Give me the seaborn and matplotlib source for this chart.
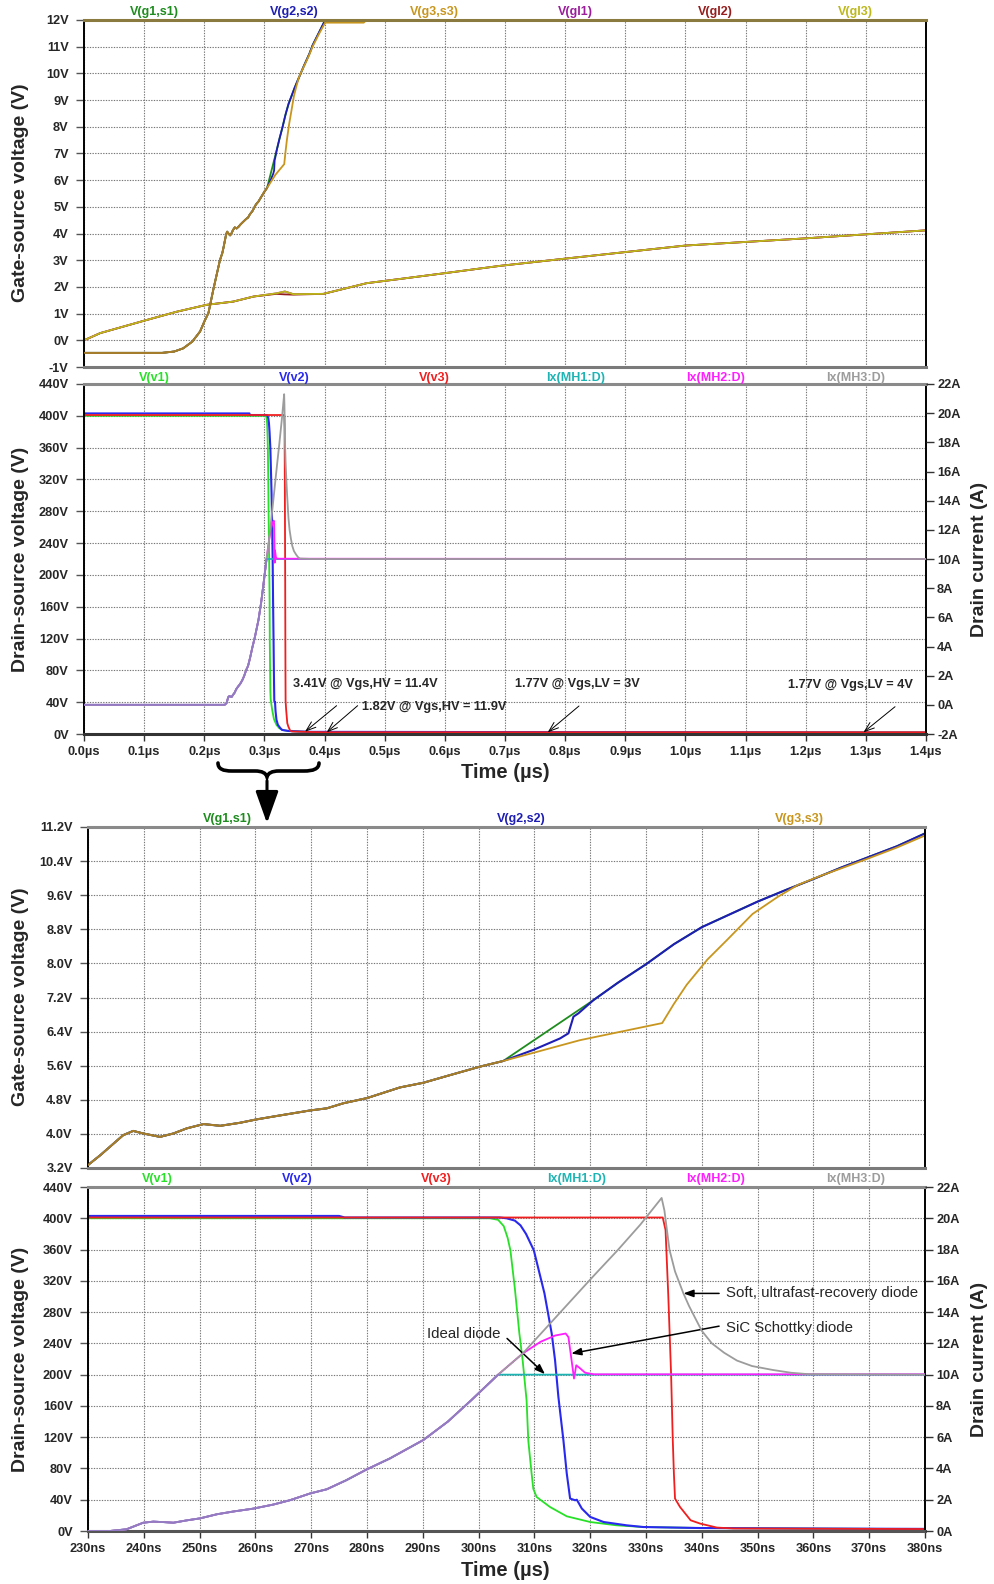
import numpy as np
import matplotlib
matplotlib.use("Agg")
import matplotlib.pyplot as plt
import matplotlib.colors as mcolors
from matplotlib.patches import FancyArrowPatch, PathPatch
from matplotlib.path import Path
import seaborn as sns

# ---------------- data (time in ns) ----------------
# high-side gate-source voltage: part shared by all three devices
t_hv_common = [0, 130, 150, 165, 180, 193, 200, 207, 215, 222, 226, 230, 232.2, 236.3, 238.1,
               239.9, 242.9, 245.3, 247.7, 250.7, 253.7, 257.2, 260.2, 263.8, 269.8, 272.8,
               275.8, 280, 285.9, 290.1, 294.9, 300.3, 304.4]
v_hv_common = [-0.47, -0.47, -0.42, -0.3, -0.05, 0.33, 0.7, 1.03, 1.9, 2.6, 3.0, 3.27, 3.5, 3.97, 4.07,
               4.01, 3.93, 4.01, 4.13, 4.23, 4.19, 4.26, 4.34, 4.42, 4.55, 4.6,
               4.72, 4.84, 5.09, 5.2, 5.38, 5.58, 5.71]
# individual branches after the split
t_g1_tail = [304.4, 320.6, 325, 330, 335, 340, 345, 350, 355, 360, 365, 370, 375, 380, 390, 401, 1400]
v_g1_tail = [5.71, 7.14, 7.55, 7.98, 8.45, 8.85, 9.15, 9.45, 9.72, 9.98, 10.25, 10.5, 10.75, 11.05,
             11.5, 12.0, 12.0]
t_g2_tail = [304.4, 309.8, 314.6, 316.1, 317.0, 317.9, 320.6, 325, 330, 335, 340, 345, 350, 355, 360,
             365, 370, 375, 380, 390, 401, 1400]
v_g2_tail = [5.71, 5.97, 6.24, 6.36, 6.75, 6.83, 7.14, 7.55, 7.98, 8.45, 8.85, 9.15, 9.45, 9.72, 9.98,
             10.25, 10.5, 10.75, 11.05, 11.5, 12.0, 12.0]
t_g3_tail = [304.4, 318.2, 332.9, 335, 337.3, 341.0, 344.6, 349.1, 353.6, 357.2, 361, 365, 370, 375,
             380, 390, 401, 465, 470, 1400]
v_g3_tail = [5.71, 6.2, 6.6, 7.05, 7.5, 8.09, 8.56, 9.16, 9.56, 9.84, 10.04, 10.23, 10.47, 10.72,
             11.0, 11.45, 11.9, 11.9, 12.0, 12.0]

# low-side gate-source voltages
t_gl = [0, 27, 104, 154, 204, 248, 282, 320, 334, 348, 398, 470, 526, 598, 692, 800, 1000, 1200, 1300, 1400]
v_gl1 = [0.0, 0.27, 0.76, 1.07, 1.33, 1.45, 1.64, 1.76, 1.83, 1.73, 1.74, 2.14, 2.3, 2.51, 2.79, 3.06, 3.55, 3.82, 3.97, 4.12]
v_gl2 = [0.0, 0.27, 0.76, 1.07, 1.33, 1.45, 1.64, 1.74, 1.72, 1.71, 1.74, 2.14, 2.3, 2.51, 2.79, 3.06, 3.55, 3.82, 3.97, 4.12]
v_gl3 = [0.0, 0.27, 0.76, 1.07, 1.33, 1.45, 1.64, 1.76, 1.83, 1.73, 1.74, 2.14, 2.3, 2.51, 2.79, 3.06, 3.55, 3.82, 3.97, 4.12]

# drain-source voltages
t_v1 = [0, 302, 303.5, 304.5, 305.2, 305.7, 306.5, 307.3, 307.9, 308.6, 308.9, 309.5, 309.8, 310.4,
        312.8, 315.8, 320, 324.7, 329.5, 340, 360, 380, 1400]
v_v1 = [400, 400, 398, 390, 375, 359, 310, 253, 218, 167, 116, 73.5, 54, 43.5,
        30.7, 18.8, 11.5, 7.3, 5.1, 3.8, 3.0, 2.5, 1.8]
t_v2 = [0, 275, 276, 303.8, 305, 306.5, 307.5, 308.5, 309.3, 309.9, 311.8, 313.1, 313.7, 314.3, 315.2,
        315.8, 316.4, 317.3, 317.6, 318.5, 320, 322.4, 326.5, 329.5, 339.7, 360, 380, 1400]
v_v2 = [403, 403, 401, 401, 400, 397, 391, 380, 368, 359, 304, 252.7, 218.5, 171.5, 116,
        73.5, 41.5, 39.3, 40, 28.7, 18, 11.5, 7.3, 5.1, 3.8, 3.2, 2.7, 1.8]
t_v3 = [0, 333.0, 333.5, 334.0, 334.5, 334.8, 335.0, 335.2, 336.1, 338.0, 339.7, 342.7, 345.7, 380, 400, 1400]
v_v3 = [401, 401, 385, 300, 200, 116, 73.5, 41.5, 30.7, 13.7, 9.5, 4.4, 3.2, 2.5, 2.2, 2.2]

# drain currents: shared rise, then individual tails
t_i_common = [0, 233.9, 236.9, 239.9, 241.7, 243.5, 245.3, 247.7, 250.1, 253.1, 256.1, 259.6, 263.2,
              266.2, 269.8, 272.8, 276.3, 279.9, 284.1, 290.1, 294.5, 298.7, 303.5]
i_common = [0, 0, 0.11, 0.53, 0.6, 0.57, 0.53, 0.68, 0.81, 1.07, 1.25, 1.43, 1.69,
            1.97, 2.4, 2.67, 3.25, 3.93, 4.64, 5.82, 7.0, 8.37, 10.0]
t_mh1_tail = [303.5, 1400]
i_mh1_tail = [10.0, 10.0]
t_mh2_tail = [303.5, 307.9, 311.1, 313.7, 315.6, 316.1, 316.5, 317.1, 317.5, 318.2, 319.1, 320.7, 1400]
i_mh2_tail = [10.0, 11.35, 12.1, 12.5, 12.63, 12.4, 11.35, 9.75, 10.6, 10.4, 10.12, 10.02, 10.0]
t_mh3_tail = [303.5, 307.9, 320.7, 324.9, 329.0, 332.8, 333.3, 334.2, 335.2, 336.7, 337.7, 338.7, 340,
              341.8, 344, 346.3, 349, 352.7, 356, 359.1, 380, 1400]
i_mh3_tail = [10.0, 11.35, 16.35, 17.95, 19.6, 21.3, 20.5, 18.0, 16.6, 15.2, 14.4, 13.7, 12.8,
              12.0, 11.4, 10.9, 10.55, 10.3, 10.12, 10.03, 10.0, 10.0]

gate_labels = ["V(g1,s1)", "V(g2,s2)", "V(g3,s3)", "V(gl1)", "V(gl2)", "V(gl3)"]
drain_labels = ["V(v1)", "V(v2)", "V(v3)", "Ix(MH1:D)", "Ix(MH2:D)", "Ix(MH3:D)"]

C = {"g1": "#1e8c1e", "g2": "#1e1eb4", "g3": "#c8961e", "gl1": "#9b1e9b", "gl2": "#961e1e",
     "gl3": "#bdb81c", "v1": "#28e028", "v2": "#2828f0", "v3": "#f01e1e", "mh1": "#1eb4b4",
     "mh2": "#ff1eff", "mh3": "#9c9c9c"}

# ---------------- style ----------------
sns.set_style("white")
plt.rcParams["font.family"] = ["Liberation Sans", "DejaVu Sans"]
plt.rcParams["font.weight"] = "bold"

W, H = 994, 1584
fig = plt.figure(figsize=(W / 100, H / 100), dpi=100)
fig.patch.set_facecolor("white")

TICK_FS = 9.2
HEAD_FS = 9.0


def ax_px(l, t, r, b):
    return fig.add_axes([l / W, 1 - b / H, (r - l) / W, (b - t) / H])


def ftxt(x, y, s, **kw):
    return fig.text(x / W, 1 - y / H, s, **kw)


def cat(a, b):
    return list(a) + list(b[1:])


def line(ax, x, y, color, lw=1.3, z=2, scale=1.0):
    sns.lineplot(x=np.asarray(x, float) * scale, y=np.asarray(y, float), ax=ax, color=color,
                 linewidth=lw, estimator=None, sort=False, legend=False, zorder=z)


def blend(*cs):
    return tuple(np.mean([mcolors.to_rgb(c) for c in cs], axis=0))


def style(ax, xlim, ylim, xt, yt, ytl, xtl=None, bottom_color="#7a7a7a"):
    ax.set_xlim(*xlim)
    ax.set_ylim(*ylim)
    ax.set_xticks(xt)
    ax.set_yticks(yt)
    ax.set_yticklabels(ytl)
    ax.grid(True, color="#777777", ls=(0, (1.2, 1.2)), lw=0.8)
    ax.set_axisbelow(True)
    for s in ["left", "right"]:
        ax.spines[s].set_color("black")
        ax.spines[s].set_linewidth(1.4)
    ax.spines["top"].set_color("#8a8a8a")
    ax.spines["top"].set_linewidth(2.2)
    ax.spines["bottom"].set_color(bottom_color)
    ax.spines["bottom"].set_linewidth(2.2)
    ax.tick_params(axis="y", direction="out", length=6, width=1, color="#555555", pad=5,
                   labelsize=TICK_FS, left=True)
    if xtl is None:
        ax.tick_params(axis="x", length=0, labelbottom=False)
    else:
        ax.set_xticklabels(xtl)
        ax.tick_params(axis="x", direction="out", length=5, width=1, color="#333333", pad=3.5,
                       labelsize=TICK_FS, bottom=True)
    ax.set_xlabel("")
    ax.set_ylabel("")


ax1 = ax_px(84, 20, 926, 367)
ax2 = ax_px(84, 384, 926, 734)
ax3 = ax_px(88, 827, 925, 1168)
ax4 = ax_px(88, 1187, 925, 1531)

us = 1e-3
# ---------- panel 1 ----------
g1_t, g1_v = cat(t_hv_common, t_g1_tail), cat(v_hv_common, v_g1_tail)
g2_t, g2_v = cat(t_hv_common, t_g2_tail), cat(v_hv_common, v_g2_tail)
g3_t, g3_v = cat(t_hv_common, t_g3_tail), cat(v_hv_common, v_g3_tail)
line(ax1, t_gl, v_gl1, C["gl1"], scale=us)
line(ax1, t_gl, v_gl2, C["gl2"], scale=us)
line(ax1, t_gl, v_gl3, C["gl3"], scale=us)
line(ax1, g1_t, g1_v, C["g1"], scale=us)
line(ax1, g2_t, g2_v, C["g2"], scale=us)
line(ax1, g3_t, g3_v, C["g3"], scale=us)
line(ax1, t_hv_common, v_hv_common, "#a47c2a", scale=us, z=3)
style(ax1, (0, 1.4), (-1, 12), np.round(np.arange(0, 1.41, 0.1), 2), np.arange(-1, 13, 1),
      [f"{v}V" for v in range(-1, 13)])
ax1.spines["top"].set_color("#8a7a40")

# ---------- panel 2 ----------
line(ax2, t_v1, v_v1, C["v1"], scale=us)
line(ax2, t_v2, v_v2, C["v2"], scale=us, lw=1.5)
line(ax2, t_v3, v_v3, C["v3"], scale=us)
style(ax2, (0, 1.4), (0, 440), np.round(np.arange(0, 1.41, 0.1), 2), np.arange(0, 441, 40),
      [f"{v}V" for v in range(0, 441, 40)],
      xtl=[f"{v:.1f}µs" for v in np.arange(0, 1.41, 0.1)], bottom_color="#333333")
ax2r = ax2.twinx()
line(ax2r, cat(t_i_common, t_mh1_tail), cat(i_common, i_mh1_tail), C["mh1"], scale=us)
line(ax2r, cat(t_i_common, t_mh2_tail), cat(i_common, i_mh2_tail), C["mh2"], scale=us)
line(ax2r, cat(t_i_common, t_mh3_tail), cat(i_common, i_mh3_tail), C["mh3"], scale=us)
line(ax2r, t_i_common, i_common, blend(C["mh1"], C["mh2"], C["mh3"]), scale=us, z=3)
ax2r.set_ylim(-2, 22)
ax2r.set_yticks(np.arange(-2, 23, 2))
ax2r.set_yticklabels([f"{v}A" for v in range(-2, 23, 2)])
ax2r.tick_params(axis="y", direction="out", length=6, width=1, color="#333333", pad=2,
                 labelsize=TICK_FS)
ax2r.set_ylabel("")
for s in ax2r.spines.values():
    s.set_visible(False)

ann2 = [("3.41V @ Vgs,HV = 11.4V", 0.347, 62.9, (0.420, 35.6), (0.3675, 2.9)),
        ("1.82V @ Vgs,HV = 11.9V", 0.462, 33.9, (0.455, 35.6), (0.4035, 2.1)),
        ("1.77V @ Vgs,LV = 3V", 0.717, 62.9, (0.823, 35.2), (0.771, 2.1)),
        ("1.77V @ Vgs,LV = 4V", 1.171, 61.6, (1.3485, 34.3), (1.296, 2.1))]
for s, tx, ty, p0, p1 in ann2:
    ax2.text(tx, ty, s, fontsize=9.2, fontweight="bold", ha="left", va="center", zorder=6)
    ax2.annotate("", xy=p1, xytext=p0, zorder=6,
                 arrowprops=dict(arrowstyle="->,head_length=0.7,head_width=0.25", color="black",
                                 lw=0.7, shrinkA=0, shrinkB=0))

# ---------- panel 3 ----------
line(ax3, g1_t, g1_v, C["g1"])
line(ax3, g2_t, g2_v, C["g2"], lw=1.5)
line(ax3, g3_t, g3_v, C["g3"])
line(ax3, t_hv_common, v_hv_common, "#a47c2a", z=3)
yt3 = np.round(np.arange(3.2, 11.21, 0.8), 1)
style(ax3, (230, 380), (3.2, 11.2), np.arange(230, 381, 10), yt3, [f"{v:.1f}V" for v in yt3])

# ---------- panel 4 ----------
line(ax4, t_v1, v_v1, C["v1"])
line(ax4, t_v2, v_v2, C["v2"], lw=1.5)
line(ax4, t_v3, v_v3, C["v3"])
style(ax4, (230, 380), (0, 440), np.arange(230, 381, 10), np.arange(0, 441, 40),
      [f"{v}V" for v in range(0, 441, 40)],
      xtl=[f"{v}ns" for v in range(230, 381, 10)], bottom_color="#555555")
ax4r = ax4.twinx()
line(ax4r, cat(t_i_common, t_mh1_tail), cat(i_common, i_mh1_tail), C["mh1"])
line(ax4r, cat(t_i_common, t_mh2_tail), cat(i_common, i_mh2_tail), C["mh2"])
line(ax4r, cat(t_i_common, t_mh3_tail), cat(i_common, i_mh3_tail), C["mh3"])
line(ax4r, t_i_common, i_common, blend(C["mh1"], C["mh2"], C["mh3"]), z=3)
ax4r.set_xlim(230, 380)
ax4r.set_ylim(0, 22)
ax4r.set_yticks(np.arange(0, 23, 2))
ax4r.set_yticklabels([f"{v}A" for v in range(0, 23, 2)])
ax4r.tick_params(axis="y", direction="out", length=6, width=1, color="#333333", pad=2,
                 labelsize=TICK_FS)
ax4r.set_ylabel("")
for s in ax4r.spines.values():
    s.set_visible(False)

ann4 = [("Soft, ultrafast-recovery diode", 344.4, 303.9, (343.1, 303.9), (336.7, 303.9)),
        ("SiC Schottky diode", 344.4, 259.5, (343.1, 262.0), (316.6, 227.0)),
        ("Ideal diode", 290.8, 251.8, (305.1, 246.3), (311.9, 200.6))]
for s, tx, ty, p0, p1 in ann4:
    ax4.text(tx, ty, s, fontsize=10.8, fontweight="normal", ha="left", va="center", zorder=6)
    ax4.annotate("", xy=p1, xytext=p0, zorder=6,
                 arrowprops=dict(arrowstyle="-|>,head_length=0.6,head_width=0.22", color="black",
                                 lw=1.1, shrinkA=0, shrinkB=0))

# ---------- series header labels ----------
for i, (s, k) in enumerate(zip(gate_labels, ["g1", "g2", "g3", "gl1", "gl2", "gl3"])):
    ftxt(84 + 842 * (i + 0.5) / 6, 12, s, color=C[k], fontsize=HEAD_FS, ha="center", va="center")
for i, (s, k) in enumerate(zip(drain_labels, ["v1", "v2", "v3", "mh1", "mh2", "mh3"])):
    ftxt(84 + 842 * (i + 0.5) / 6, 378.5, s, color=C[k], fontsize=HEAD_FS, ha="center", va="center")
for x, s, k in zip([227, 521, 799], gate_labels[:3], ["g1", "g2", "g3"]):
    ftxt(x, 819, s, color=C[k], fontsize=HEAD_FS, ha="center", va="center")
for i, (s, k) in enumerate(zip(drain_labels, ["v1", "v2", "v3", "mh1", "mh2", "mh3"])):
    ftxt(88 + 837 * (i + 0.5) / 6, 1179, s, color=C[k], fontsize=HEAD_FS, ha="center", va="center")

# ---------- axis titles ----------
lab = dict(fontsize=14, fontweight="bold", ha="center", va="center", rotation=90)
ftxt(21, 193, "Gate-source voltage (V)", **lab)
ftxt(21, 559, "Drain-source voltage (V)", **lab)
ftxt(980, 559, "Drain current (A)", **lab)
ftxt(21, 997, "Gate-source voltage (V)", **lab)
ftxt(21, 1359, "Drain-source voltage (V)", **lab)
ftxt(980, 1359, "Drain current (A)", **lab)
ftxt(505, 772, "Time (µs)", fontsize=14.5, fontweight="bold", ha="center", va="center")
ftxt(505, 1571, "Time (µs)", fontsize=14.5, fontweight="bold", ha="center", va="center")

# ---------- zoom brace and arrow ----------
def P(x, y):
    return (x / W, 1 - y / H)

verts = [P(218, 763), P(218, 769), P(223, 771), P(232, 771), P(255, 771),
         P(262, 771), P(266, 773), P(267, 777),
         P(268, 773), P(272, 771), P(279, 771), P(304, 771),
         P(313, 771), P(319, 769), P(319, 763)]
codes = [Path.MOVETO, Path.CURVE4, Path.CURVE4, Path.CURVE4, Path.LINETO,
         Path.CURVE4, Path.CURVE4, Path.CURVE4,
         Path.CURVE4, Path.CURVE4, Path.CURVE4, Path.LINETO,
         Path.CURVE4, Path.CURVE4, Path.CURVE4]
fig.add_artist(PathPatch(Path(verts, codes), transform=fig.transFigure, fill=False,
                         lw=2.6, edgecolor="black", capstyle="round"))
fig.add_artist(FancyArrowPatch(P(267, 778), P(267, 826), transform=fig.transFigure,
                               arrowstyle="-|>,head_length=1.4,head_width=0.5",
                               mutation_scale=14, lw=2.2, color="black"))

fig.savefig("out.png", dpi=100, facecolor="white")
